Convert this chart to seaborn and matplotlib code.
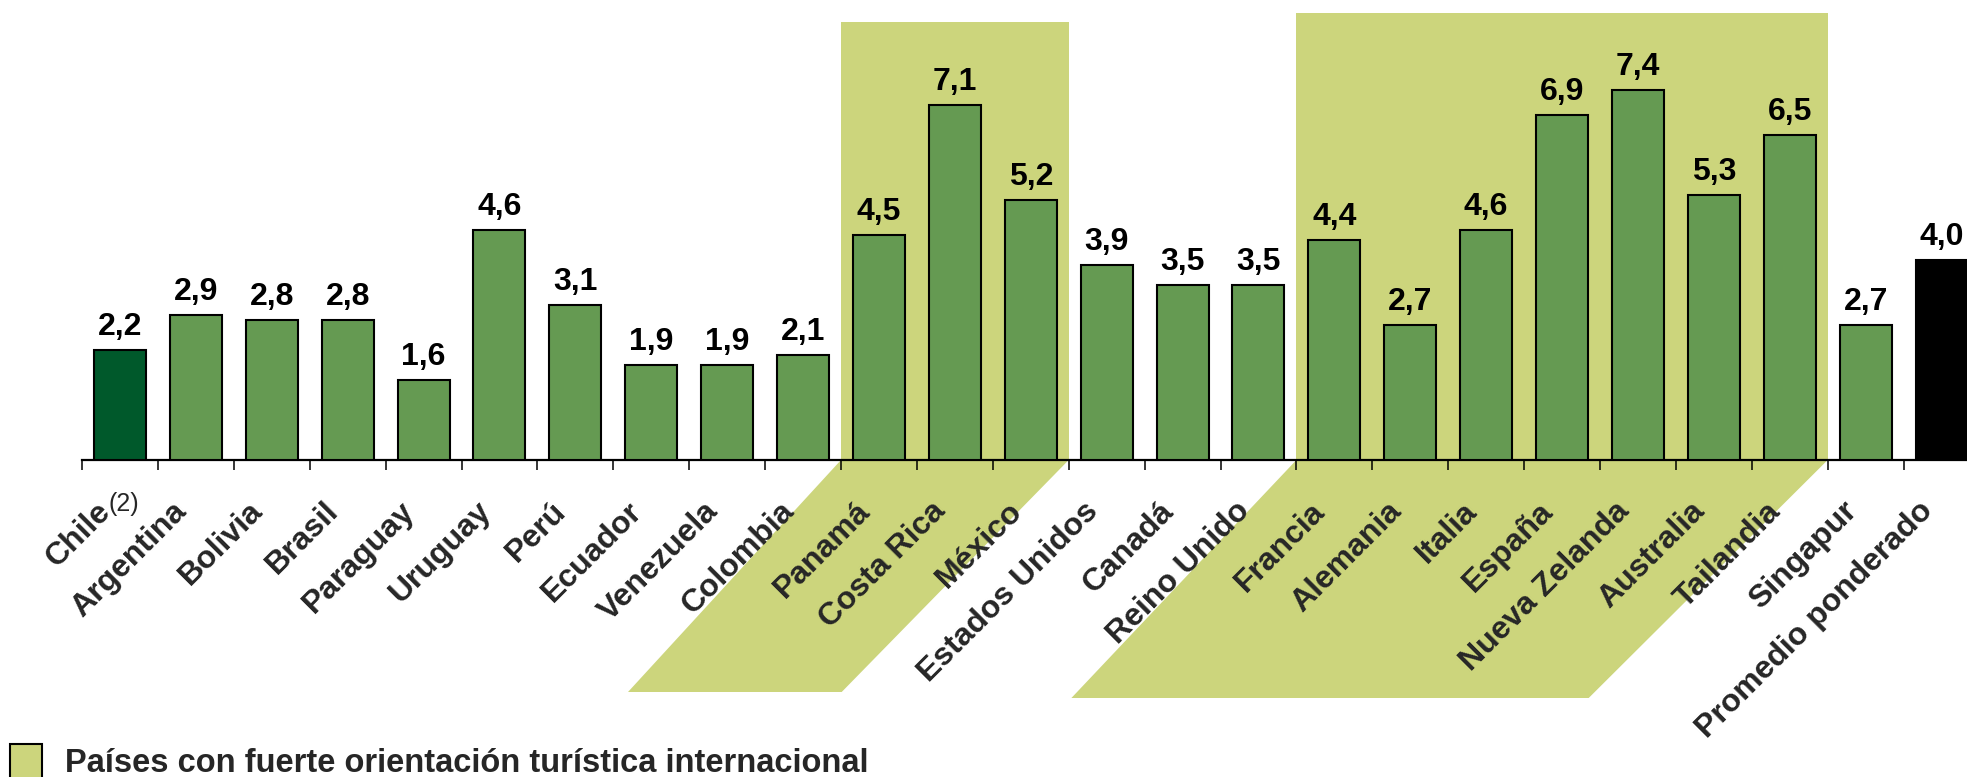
import numpy as np
import pandas as pd
import matplotlib
matplotlib.use("Agg")
import matplotlib.pyplot as plt
import seaborn as sns
from matplotlib.patches import Rectangle, Polygon
from matplotlib.transforms import ScaledTranslation

# ---------------- data ----------------
countries = ["Chile", "Argentina", "Bolivia", "Brasil", "Paraguay", "Uruguay", "Perú",
             "Ecuador", "Venezuela", "Colombia", "Panamá", "Costa Rica", "México",
             "Estados Unidos", "Canadá", "Reino Unido", "Francia", "Alemania", "Italia",
             "España", "Nueva Zelanda", "Australia", "Tailandia", "Singapur",
             "Promedio ponderado"]
values = [2.2, 2.9, 2.8, 2.8, 1.6, 4.6, 3.1, 1.9, 1.9, 2.1, 4.5, 7.1, 5.2,
          3.9, 3.5, 3.5, 4.4, 2.7, 4.6, 6.9, 7.4, 5.3, 6.5, 2.7, 4.0]
value_labels = ["2,2", "2,9", "2,8", "2,8", "1,6", "4,6", "3,1", "1,9", "1,9", "2,1",
                "4,5", "7,1", "5,2", "3,9", "3,5", "3,5", "4,4", "2,7", "4,6", "6,9",
                "7,4", "5,3", "6,5", "2,7", "4,0"]
group_tourism_1 = ["Panamá", "Costa Rica", "México"]
group_tourism_2 = ["Francia", "Alemania", "Italia", "España", "Nueva Zelanda",
                   "Australia", "Tailandia"]
legend_label = "Países con fuerte orientación turística internacional"
chile_note = "(2)"

# ---------------- style ----------------
GREEN = "#659A52"
DARK = "#00592B"
HIGHLIGHT = "#CCD57C"
FONT = ["Liberation Sans", "DejaVu Sans"]

sns.set_theme(style="white")
plt.rcParams["font.family"] = FONT
plt.rcParams["font.weight"] = "bold"

W, H, DPI = 1967, 777, 100
fig = plt.figure(figsize=(W / DPI, H / DPI), dpi=DPI)

px_per_cat = 75.9
px_per_unit = 50.0
left_px = 82
base_px = 460
ax = fig.add_axes([left_px / W, (H - base_px) / H, 1 - left_px / W, base_px / H])

df = pd.DataFrame({"country": countries, "value": values})
palette = {c: GREEN for c in countries}
palette[countries[0]] = DARK
palette[countries[-1]] = "#000000"

sns.barplot(data=df, x="country", y="value", hue="country", palette=palette,
            order=countries, width=0.685, edgecolor="black", linewidth=1.5,
            saturation=1, legend=False, ax=ax, zorder=3)

ax.set_xlim(-0.5, -0.5 + (W - left_px) / px_per_cat)
ax.set_ylim(0, base_px / px_per_unit)

# highlight boxes above and parallelograms below the axis
groups = [(group_tourism_1, 8.76, 213, 227, 232), (group_tourism_2, 8.95, 225, 239, 238)]
for grp, top, sl, sr, drop in groups:
    i0 = countries.index(grp[0]) - 0.5
    i1 = countries.index(grp[-1]) + 0.5
    ax.add_patch(Rectangle((i0, 0), i1 - i0, top, facecolor=HIGHLIGHT,
                           edgecolor="none", zorder=0.3))
    yb = -drop / px_per_unit
    poly = Polygon([(i0, 0), (i1, 0), (i1 - sr / px_per_cat, yb), (i0 - sl / px_per_cat, yb)],
                   closed=True, facecolor=HIGHLIGHT, edgecolor="none",
                   clip_on=False, zorder=0.3)
    ax.add_patch(poly)

# value labels
for i, (v, lab) in enumerate(zip(values, value_labels)):
    ax.annotate(lab, xy=(i, v), xytext=(0, 15), textcoords="offset pixels",
                ha="center", va="baseline", fontsize=23, fontweight="bold",
                color="black", zorder=5)

# axes styling
for s in ["left", "right", "top"]:
    ax.spines[s].set_visible(False)
ax.spines["bottom"].set_color("black")
ax.spines["bottom"].set_linewidth(1.6)
ax.set_yticks([])
ax.set_xlabel("")
ax.set_ylabel("")
ax.set_xticks(np.arange(len(countries)))
ax.set_xticks(np.arange(-0.5, len(countries) - 1, 1), minor=True)
ax.tick_params(axis="x", which="major", length=0, pad=26)
ax.tick_params(axis="x", which="minor", length=7.2, width=1.1, color="black",
               direction="out", bottom=True)
ax.set_xticklabels(countries, rotation=45, ha="right", va="top",
                   rotation_mode="anchor", fontsize=23, fontweight="bold")
offset = ScaledTranslation(-24 / DPI, 0, fig.dpi_scale_trans)
for lab in ax.get_xticklabels():
    lab.set_transform(lab.get_transform() + offset)

ax.annotate(chile_note, xy=(0, 0), xytext=(4, -44), textcoords="offset pixels",
            ha="center", va="center", fontsize=18, fontweight="medium",
            annotation_clip=False)

# legend
fig.add_artist(Rectangle((10 / W, -2 / H), 32 / W, 35 / H, transform=fig.transFigure,
                         facecolor=HIGHLIGHT, edgecolor="black", linewidth=1.5))
fig.text(65 / W, (H - 764) / H, legend_label, ha="left", va="center",
         fontsize=23.5, fontweight="bold")

fig.savefig("out.png", dpi=DPI)
